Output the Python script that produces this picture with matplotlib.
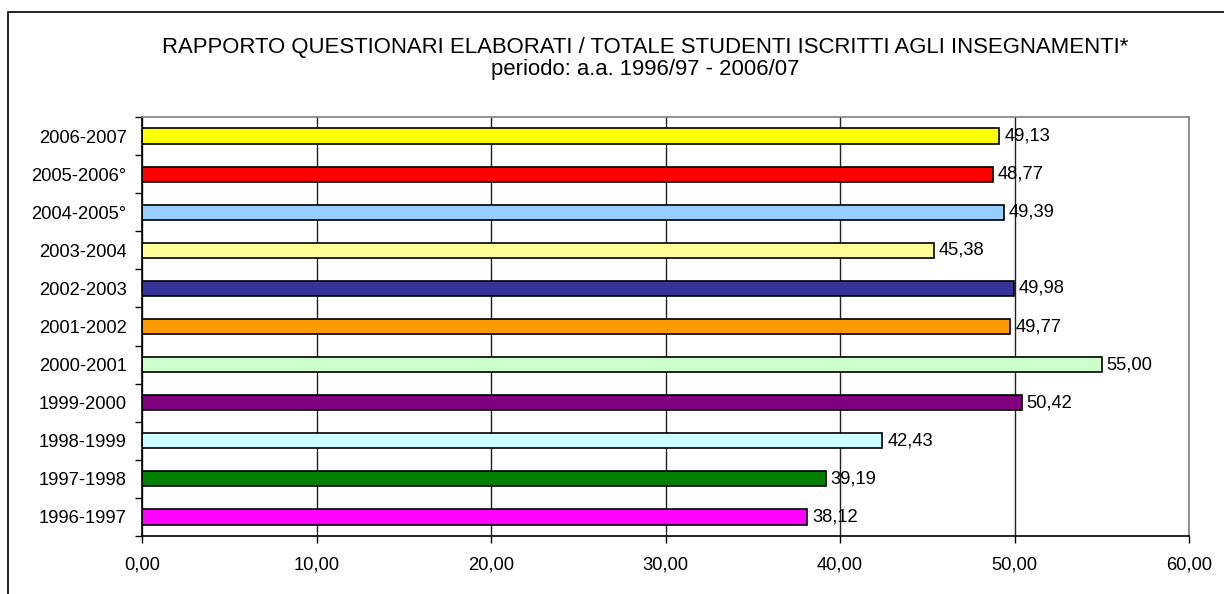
import matplotlib
matplotlib.use("Agg")
import matplotlib.pyplot as plt
import numpy as np
from matplotlib.patches import Rectangle

# data, bottom to top
years = ["1996-1997", "1997-1998", "1998-1999", "1999-2000", "2000-2001",
         "2001-2002", "2002-2003", "2003-2004", "2004-2005°", "2005-2006°",
         "2006-2007"]
values = [38.12, 39.19, 42.43, 50.42, 55.00, 49.77, 49.98, 45.38, 49.39,
          48.77, 49.13]
colors = ["#FF00FF", "#008000", "#CCFFFF", "#800080", "#CCFFCC", "#FF9900",
          "#333399", "#FFFF99", "#99CCFF", "#FF0000", "#FFFF00"]
xticks = [0, 10, 20, 30, 40, 50, 60]

plt.rcParams['font.family'] = ['Liberation Sans', 'DejaVu Sans']

fig = plt.figure(figsize=(12.24, 5.94), dpi=100)
ax = fig.add_axes([142 / 1224, 1 - 536 / 594, (1189 - 142) / 1224, (536 - 117) / 594])

# outer chart frame (cut off on right and bottom)
fig.patches.append(Rectangle((8 / 1224, -0.1), 1.2, 1 - 12 / 594 + 0.1,
                             transform=fig.transFigure, fill=False,
                             edgecolor="black", linewidth=1.2))

y = np.arange(len(years))
ax.set_axisbelow(True)
ax.grid(axis="x", color="#202020", linewidth=1)
ax.barh(y, values, height=0.4, color=colors, edgecolor="black", linewidth=1.2)

for yi, v in zip(y, values):
    ax.annotate(f"{v:.2f}".replace(".", ","), (v, yi), xytext=(3.5, 0),
                textcoords="offset points", va="center", ha="left",
                fontsize=13.2)

ax.set_xlim(0, 60)
ax.set_ylim(-0.5, len(years) - 0.5)
ax.set_xticks(xticks)
ax.set_xticklabels([f"{t:.2f}".replace(".", ",") for t in xticks], fontsize=13.2)
ax.set_yticks(y)
ax.set_yticklabels(years, fontsize=13.2)
ax.set_yticks(np.arange(len(years) + 1) - 0.5, minor=True)
ax.tick_params(axis="y", which="major", length=0, pad=11)
ax.tick_params(axis="y", which="minor", length=5, width=1)
ax.tick_params(axis="x", length=5, width=1, pad=10)

for s in ["top", "right"]:
    ax.spines[s].set_color("#808080")
    ax.spines[s].set_linewidth(1.2)
for s in ["left", "bottom"]:
    ax.spines[s].set_color("black")
    ax.spines[s].set_linewidth(1.2)

fig.text(645 / 1224, 1 - 47 / 594,
         "RAPPORTO QUESTIONARI ELABORATI / TOTALE STUDENTI ISCRITTI AGLI INSEGNAMENTI*",
         ha="center", va="center", fontsize=15.9)
fig.text(645 / 1224, 1 - 70 / 594, "periodo: a.a. 1996/97 - 2006/07",
         ha="center", va="center", fontsize=15.9)

fig.savefig("out.png", dpi=100)
